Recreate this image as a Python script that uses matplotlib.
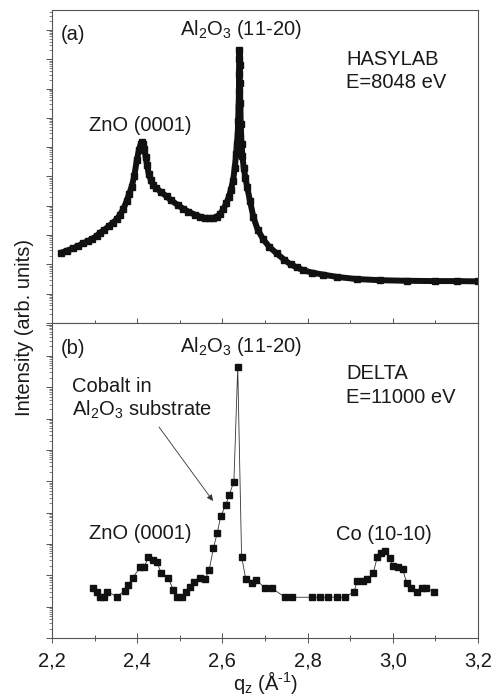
import numpy as np
import matplotlib
matplotlib.use("Agg")
import matplotlib.pyplot as plt
from matplotlib.ticker import LogLocator, NullFormatter, MultipleLocator

plt.rcParams['font.family'] = ['Liberation Sans', 'DejaVu Sans']
plt.rcParams['mathtext.fontset'] = 'custom'
plt.rcParams['mathtext.rm'] = 'Liberation Sans'
plt.rcParams['mathtext.it'] = 'Liberation Sans'
plt.rcParams['mathtext.default'] = 'regular'

# ---- data: panel (a) HASYLAB, q_z and log10(intensity) ----
top_q = [2.222, 2.235, 2.250, 2.262, 2.273, 2.285, 2.295, 2.305, 2.313, 2.323,
         2.333, 2.343, 2.352, 2.360, 2.367, 2.375, 2.381, 2.387, 2.393, 2.399,
         2.404, 2.408, 2.411, 2.414, 2.417, 2.420, 2.423, 2.427, 2.432, 2.438,
         2.445, 2.455, 2.469, 2.480, 2.495, 2.508, 2.520, 2.535, 2.547, 2.558,
         2.568, 2.579, 2.587, 2.595, 2.602, 2.609, 2.615, 2.620, 2.625, 2.629,
         2.632, 2.634, 2.636, 2.637, 2.638, 2.639, 2.639, 2.640, 2.640, 2.641,
         2.641, 2.642, 2.643, 2.645, 2.647, 2.650, 2.654, 2.658, 2.665, 2.673,
         2.683, 2.696, 2.710, 2.727, 2.745, 2.760, 2.774, 2.790, 2.810, 2.837,
         2.870, 2.915, 2.970, 3.033, 3.100, 3.150, 3.200]
top_log = [2.40, 2.47, 2.55, 2.63, 2.72, 2.80, 2.88, 2.97, 3.08, 3.18,
           3.30, 3.42, 3.54, 3.70, 3.88, 4.15, 4.40, 4.65, 5.00, 5.55,
           5.90, 6.10, 6.17, 6.12, 5.95, 5.65, 5.40, 5.10, 4.88, 4.70,
           4.60, 4.48, 4.32, 4.18, 4.03, 3.90, 3.80, 3.70, 3.63, 3.59,
           3.57, 3.58, 3.63, 3.72, 3.88, 4.08, 4.30, 4.55, 4.85, 5.30,
           5.75, 6.10, 6.45, 6.90, 7.40, 7.90, 8.50, 9.00, 9.32, 8.80,
           8.20, 7.50, 6.80, 6.10, 5.70, 5.30, 4.95, 4.65, 4.15, 3.60,
           3.18, 2.85, 2.60, 2.38, 2.16, 2.00, 1.90, 1.80, 1.72, 1.65,
           1.57, 1.50, 1.46, 1.44, 1.43, 1.43, 1.42]

# ---- data: panel (b) DELTA ----
bot_q = [2.296, 2.305, 2.313, 2.322, 2.330, 2.352, 2.371, 2.379, 2.389, 2.407,
         2.416, 2.426, 2.438, 2.446, 2.457, 2.473, 2.485, 2.493, 2.504, 2.515,
         2.524, 2.533, 2.547, 2.559, 2.569, 2.579, 2.588, 2.596, 2.608, 2.616,
         2.627, 2.636, 2.645, 2.655, 2.669, 2.680, 2.700, 2.716, 2.747, 2.763,
         2.810, 2.829, 2.849, 2.868, 2.888, 2.909, 2.917, 2.929, 2.939, 2.954,
         2.964, 2.972, 2.982, 2.993, 3.001, 3.013, 3.023, 3.033, 3.042, 3.056,
         3.068, 3.078, 3.097]
bot_log = [1.59, 1.46, 1.32, 1.32, 1.48, 1.32, 1.51, 1.69, 1.91, 2.26,
           2.25, 2.58, 2.49, 2.41, 2.07, 1.91, 1.53, 1.32, 1.32, 1.48,
           1.64, 1.80, 1.93, 1.87, 2.17, 2.87, 3.36, 3.88, 4.25, 4.57,
           4.99, 8.64, 2.60, 1.87, 1.75, 1.85, 1.59, 1.59, 1.30, 1.30,
           1.30, 1.30, 1.30, 1.30, 1.30, 1.48, 1.83, 1.83, 1.87, 2.07,
           2.60, 2.71, 2.76, 2.55, 2.30, 2.28, 2.19, 1.75, 1.59, 1.48,
           1.59, 1.59, 1.48]

x_ticks = [2.2, 2.4, 2.6, 2.8, 3.0, 3.2]
x_ticklabels = ['2,2', '2,4', '2,6', '2,8', '3,0', '3,2']

W, H = 497, 698
fig = plt.figure(figsize=(W / 100, H / 100), dpi=100)

def px(x, y):
    return (x / W, 1 - y / H)

L, R = 52, 478
ax1 = fig.add_axes([L / W, 1 - 323 / H, (R - L) / W, (323 - 10) / H])
ax2 = fig.add_axes([L / W, 1 - 638 / H, (R - L) / W, (638 - 323) / H])

spine_c = '#555555'
for ax in (ax1, ax2):
    ax.set_yscale('log')
    ax.set_xlim(2.2, 3.2)
    for s in ax.spines.values():
        s.set_color(spine_c)
        s.set_linewidth(0.8)
    ax.yaxis.set_major_locator(LogLocator(base=10, numticks=20))
    ax.yaxis.set_minor_locator(LogLocator(base=10, subs=np.arange(2, 10), numticks=20))
    ax.yaxis.set_major_formatter(NullFormatter())
    ax.yaxis.set_minor_formatter(NullFormatter())
    ax.tick_params(axis='y', which='major', direction='out', length=4, width=0.7, color=spine_c)
    ax.tick_params(axis='y', which='minor', direction='out', length=2.5, width=0.5, color=spine_c)
    ax.xaxis.set_major_locator(MultipleLocator(0.2))
    ax.xaxis.set_minor_locator(MultipleLocator(0.1))
    ax.tick_params(axis='x', which='major', direction='inout', length=7, width=0.7, color=spine_c)
    ax.tick_params(axis='x', which='minor', direction='inout', length=4, width=0.7, color=spine_c)

ax1.set_ylim(1, 10 ** 10.68)
ax2.set_ylim(1, 10 ** 10.05)
ax1.tick_params(axis='x', labelbottom=False)
ax2.set_xticks(x_ticks)
ax2.set_xticklabels(x_ticklabels)
ax2.tick_params(axis='x', labelsize=14.5, pad=6.5, labelcolor='#1a1a1a')

ax1.plot(top_q, 10 ** np.array(top_log), color='#111111', lw=4.3,
         marker='s', markersize=5, solid_joinstyle='round', solid_capstyle='round')
ax2.plot(bot_q, 10 ** np.array(bot_log), color='#333333', lw=0.6,
         marker='s', markersize=4.5, markerfacecolor='#111111',
         markeredgecolor='#111111')

fs = 14.5
def t(x, y, s, **kw):
    fig.text(*px(x, y), s, fontsize=fs, va='baseline', ha='left', color='#1a1a1a', **kw)

# panel (a)
t(61, 40, '(a)')
t(180, 35, 'Al$_2$O$_3$ (11-20)')
t(89, 131, 'ZnO (0001)')
t(346, 65, 'HASYLAB')
t(346, 88, 'E=8048 eV')
# panel (b)
t(61, 354, '(b)')
t(180, 352, 'Al$_2$O$_3$ (11-20)')
t(72, 392, 'Cobalt in')
t(72, 416, 'Al$_2$O$_3$ substrate')
t(89, 539, 'ZnO (0001)')
t(336, 540, 'Co (10-10)')
t(346, 379, 'DELTA')
t(346, 403, 'E=11000 eV')

ax2.annotate('', xy=px(213, 501), xytext=px(159, 427),
             xycoords='figure fraction', textcoords='figure fraction',
             arrowprops=dict(arrowstyle='-|>', lw=0.6, color='#333333',
                             mutation_scale=9, shrinkA=0, shrinkB=0))

fig.text(*px(266, 690), 'q$_z$ (Å$^{\u2010 1}$)', fontsize=fs, ha='center', va='baseline', color='#1a1a1a')
fig.text(*px(25, 327), 'Intensity (arb. units)', fontsize=fs, ha='center', va='center',
         rotation=90, color='#1a1a1a')

fig.savefig('out.png', dpi=100)
